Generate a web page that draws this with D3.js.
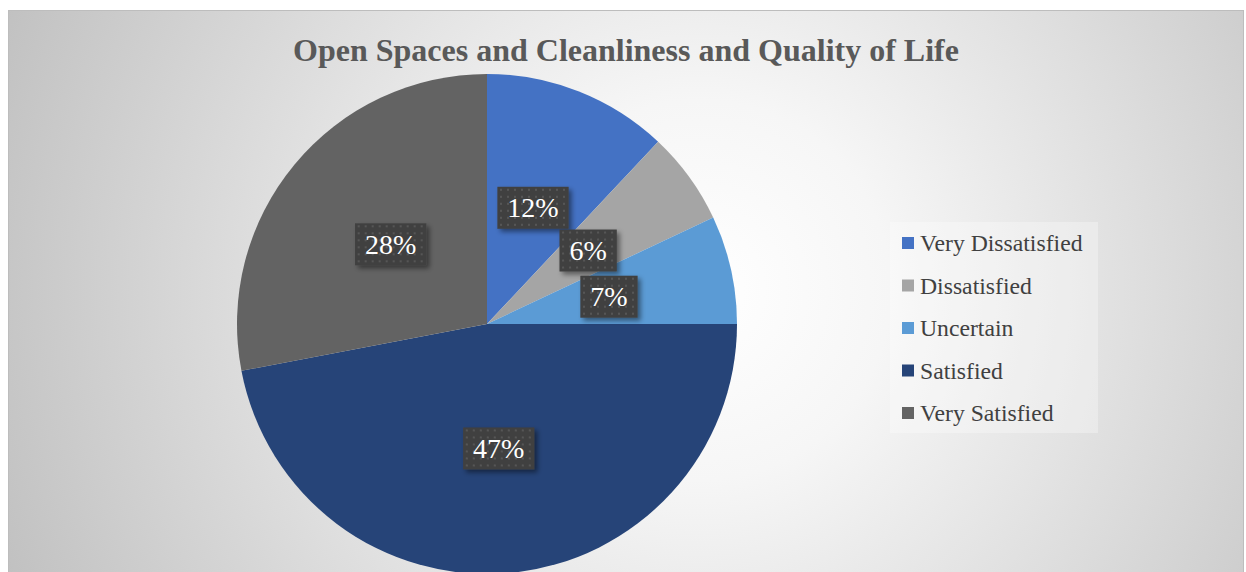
<!DOCTYPE html>
<html>
<head>
<meta charset="utf-8">
<script src="https://cdn.jsdelivr.net/npm/d3@7"></script>
<style>
  html, body { margin: 0; padding: 0; background: #fff; }
  svg { display: block; }
  text { font-family: "Liberation Serif", "Times New Roman", "DejaVu Serif", serif; }
</style>
</head>
<body>
<svg id="chart" width="1246" height="572"></svg>
<script>
// Survey responses on open spaces, cleanliness and quality of life
const categories = ["Very Dissatisfied", "Dissatisfied", "Uncertain", "Satisfied", "Very Satisfied"];
const shares = [12, 6, 7, 47, 28];
const sliceColors = ["#4472C4", "#A5A5A5", "#5B9BD5", "#264478", "#636363"];
const title = "Open Spaces and Cleanliness and Quality of Life";

const W = 1246, H = 572;
const svg = d3.select("#chart");
const defs = svg.append("defs");

// chart-area background: radial white-to-grey
const bg = defs.append("radialGradient").attr("id", "bgGrad")
  .attr("gradientUnits", "userSpaceOnUse")
  .attr("cx", 700).attr("cy", 290).attr("r", 760);
bg.append("stop").attr("offset", "0%").attr("stop-color", "#ffffff");
bg.append("stop").attr("offset", "25%").attr("stop-color", "#f6f6f6");
bg.append("stop").attr("offset", "100%").attr("stop-color", "#c0c0c0");

// dotted dark fill for the data labels
const pat = defs.append("pattern").attr("id", "dots")
  .attr("patternUnits", "userSpaceOnUse").attr("width", 7).attr("height", 7);
pat.append("rect").attr("width", 7).attr("height", 7).attr("fill", "#404040");
pat.append("rect").attr("x", 2).attr("y", 2).attr("width", 2).attr("height", 2).attr("fill", "#575757");

const shadow = defs.append("filter").attr("id", "shadow")
  .attr("x", "-20%").attr("y", "-20%").attr("width", "150%").attr("height", "160%");
shadow.append("feDropShadow").attr("dx", 3).attr("dy", 3).attr("stdDeviation", 2.5)
  .attr("flood-color", "#000").attr("flood-opacity", 0.45);

svg.append("rect").attr("x", 8.5).attr("y", 10.5).attr("width", 1235).attr("height", 570)
  .attr("fill", "url(#bgGrad)").attr("stroke", "#bdbdbd").attr("stroke-width", 1);

svg.append("text")
  .attr("x", 626).attr("y", 61)
  .attr("text-anchor", "middle")
  .attr("font-weight", "bold")
  .attr("font-size", 32)
  .attr("fill", "#595959")
  .text(title);

// pie
const cx = 487, cy = 324, R = 250;
const color = d3.scaleOrdinal().domain(categories).range(sliceColors);
const pie = d3.pie().value(d => d.v).sort(null);
const arcs = pie(categories.map((c, i) => ({ c, v: shares[i] })));
const arc = d3.arc().innerRadius(0).outerRadius(R);

const g = svg.append("g").attr("transform", `translate(${cx},${cy})`);
g.selectAll("path.slice").data(arcs).enter().append("path")
  .attr("class", "slice")
  .attr("d", arc)
  .attr("fill", d => color(d.data.c));

// data labels
const lab = g.selectAll("g.lab").data(arcs).enter().append("g")
  .attr("class", "lab")
  .attr("transform", d => { const [x, y] = arc.centroid(d); return `translate(${x},${y})`; });
lab.append("text")
  .attr("text-anchor", "middle")
  .attr("dy", "0.34em")
  .attr("font-size", 28)
  .attr("fill", "#ffffff")
  .text(d => d.data.v + "%")
  .each(function () {
    const b = this.getBBox();
    d3.select(this.parentNode).insert("rect", "text")
      .attr("x", b.x - 10).attr("y", -21)
      .attr("width", b.width + 20).attr("height", 42)
      .attr("fill", "url(#dots)")
      .attr("filter", "url(#shadow)");
  });

// legend
const legend = svg.append("g");
legend.append("rect").attr("x", 890).attr("y", 222).attr("width", 208).attr("height", 211)
  .attr("fill", "#ffffff").attr("fill-opacity", 0.3);
const item = legend.selectAll("g.item").data(categories).enter().append("g")
  .attr("class", "item")
  .attr("transform", (d, i) => `translate(902, ${243 + i * 42.5})`);
item.append("rect").attr("x", 0).attr("y", -6).attr("width", 12).attr("height", 12)
  .attr("fill", d => color(d));
item.append("text").attr("x", 18).attr("dy", "0.34em")
  .attr("font-size", 23.7).attr("fill", "#404040")
  .text(d => d);
</script>
</body>
</html>
